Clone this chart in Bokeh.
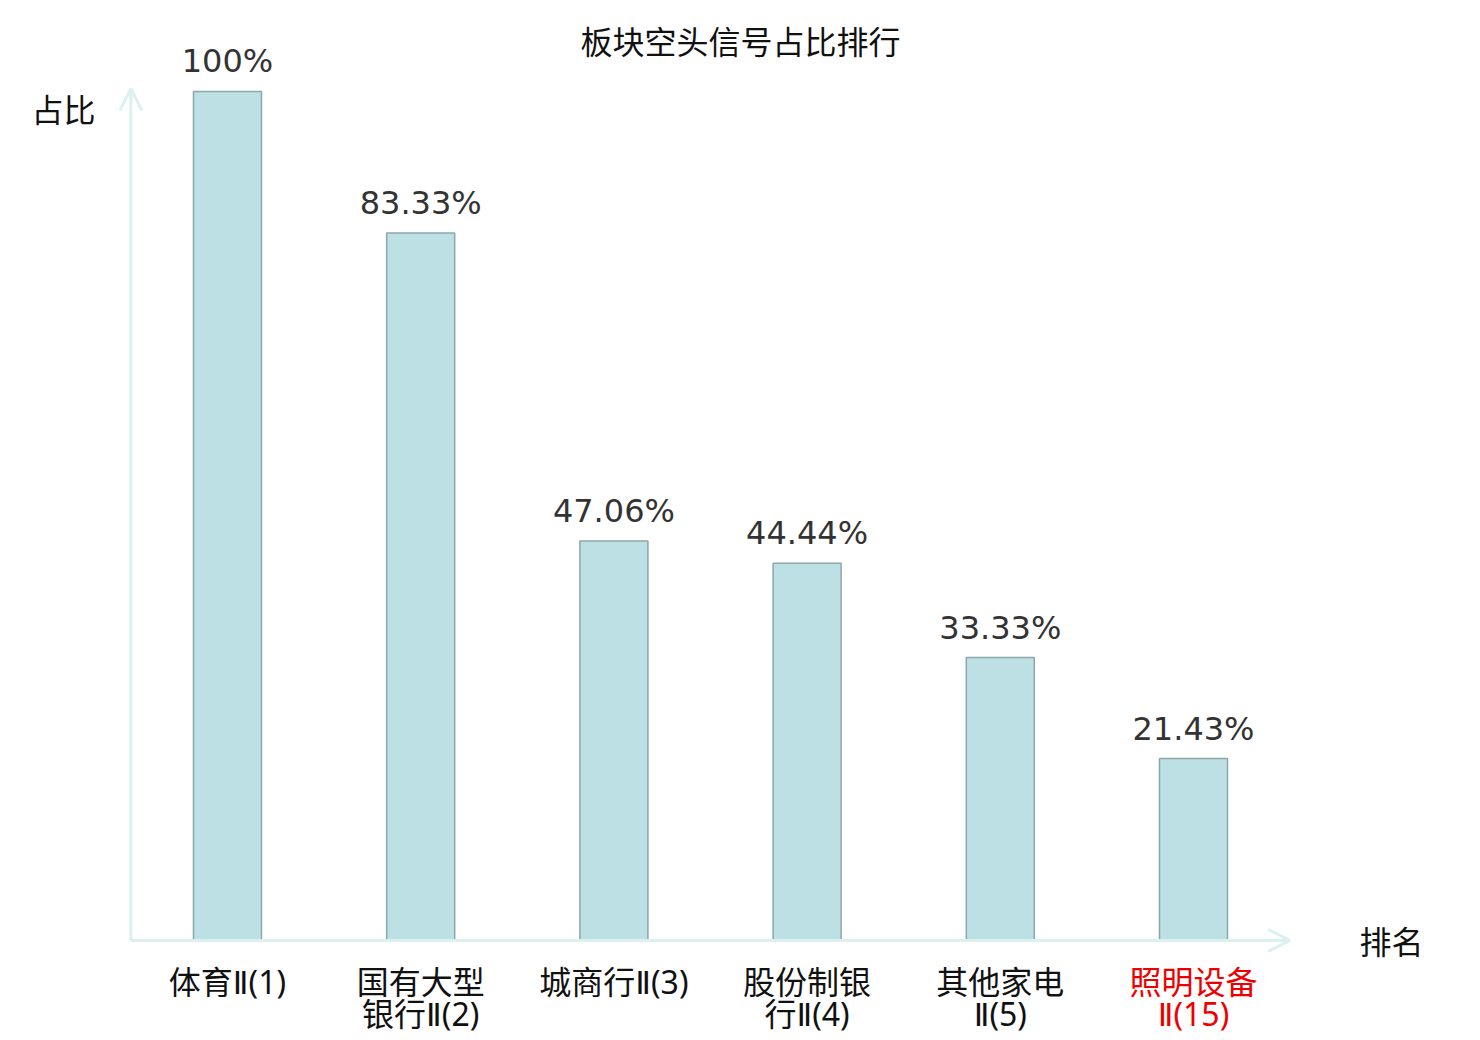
from bokeh.plotting import figure
from bokeh.models import ColumnDataSource, Range1d, Arrow, OpenHead, Label
from bokeh.core.properties import value
from bokeh.embed import file_html
from bokeh.resources import INLINE

# ---- data ----
chart_title = "板块空头信号占比排行"
y_axis_name = "占比"
x_axis_name = "排名"
categories = ["体育Ⅱ(1)", "国有大型\n银行Ⅱ(2)", "城商行Ⅱ(3)",
              "股份制银\n行Ⅱ(4)", "其他家电\nⅡ(5)", "照明设备\nⅡ(15)"]
ranks = [1, 2, 3, 4, 5, 15]
shares = [100, 83.33, 47.06, 44.44, 33.33, 21.43]
focus_rank = 15

# ---- styling ----
CJK = "Noto Sans CJK SC"
CAT_FONT = "'Noto Sans', 'DejaVu Sans', 'Noto Sans CJK SC'"
NUM = "DejaVu Sans"
BAR_FILL = "#bce0e3"
BAR_LINE = "#8da7a9"
AXIS_COL = "#dcf1ef"

W, H = 1480, 1040
n = len(categories)

def fmt(v):
    s = f"{v:.2f}".rstrip("0").rstrip(".")
    return s + "%"

src = ColumnDataSource(dict(
    x=list(range(n)),
    share=shares,
    label=[fmt(v) for v in shares],
    cat=categories,
    cat_color=["#ee0000" if r == focus_rank else "#111111" for r in ranks],
))

p = figure(width=W, height=H, output_backend="svg", toolbar_location=None,
           x_range=Range1d(-1.1749, 6.4855), y_range=Range1d(-11.779, 110.718),
           x_axis_location=None, y_axis_location=None, title=None,
           min_border=0, outline_line_color=None)
p.grid.visible = False
p.background_fill_color = "white"
p.border_fill_color = "white"

# axes with arrows
p.add_layout(Arrow(end=OpenHead(size=22, line_color=AXIS_COL, line_width=3),
                   x_start=-0.5, y_start=0, x_end=5.5, y_end=0,
                   line_color=AXIS_COL, line_width=3))
p.add_layout(Arrow(end=OpenHead(size=22, line_color=AXIS_COL, line_width=3),
                   x_start=-0.5, y_start=0, x_end=-0.5, y_end=100.35,
                   line_color=AXIS_COL, line_width=3))

p.vbar(x="x", top="share", width=0.352, source=src,
       fill_color=BAR_FILL, line_color=BAR_LINE, line_width=1.5)

p.text(x="x", y="share", text="label", source=src,
       text_font=value(NUM), text_font_size="32px", text_color="#333333",
       text_align="center", text_baseline="alphabetic", y_offset=-30)

p.text(x="x", y=0, text="cat", source=src,
       text_font=value(CAT_FONT), text_font_size="32px", text_color="cat_color",
       text_align="center", text_baseline="top", y_offset=20,
       text_line_height=0.735)

p.add_layout(Label(x=740, y=H - 39, x_units="screen", y_units="screen",
                   text=chart_title, text_font=CJK, text_font_size="32px",
                   text_color="#111111", text_align="center",
                   text_baseline="middle"))
p.add_layout(Label(x=63, y=H - 107, x_units="screen", y_units="screen",
                   text=y_axis_name, text_font=CJK, text_font_size="32px",
                   text_color="#111111", text_align="center",
                   text_baseline="middle"))
p.add_layout(Label(x=1391, y=H - 939, x_units="screen", y_units="screen",
                   text=x_axis_name, text_font=CJK, text_font_size="32px",
                   text_color="#111111", text_align="center",
                   text_baseline="middle"))

open("out.html", "w").write(file_html(p, INLINE))
